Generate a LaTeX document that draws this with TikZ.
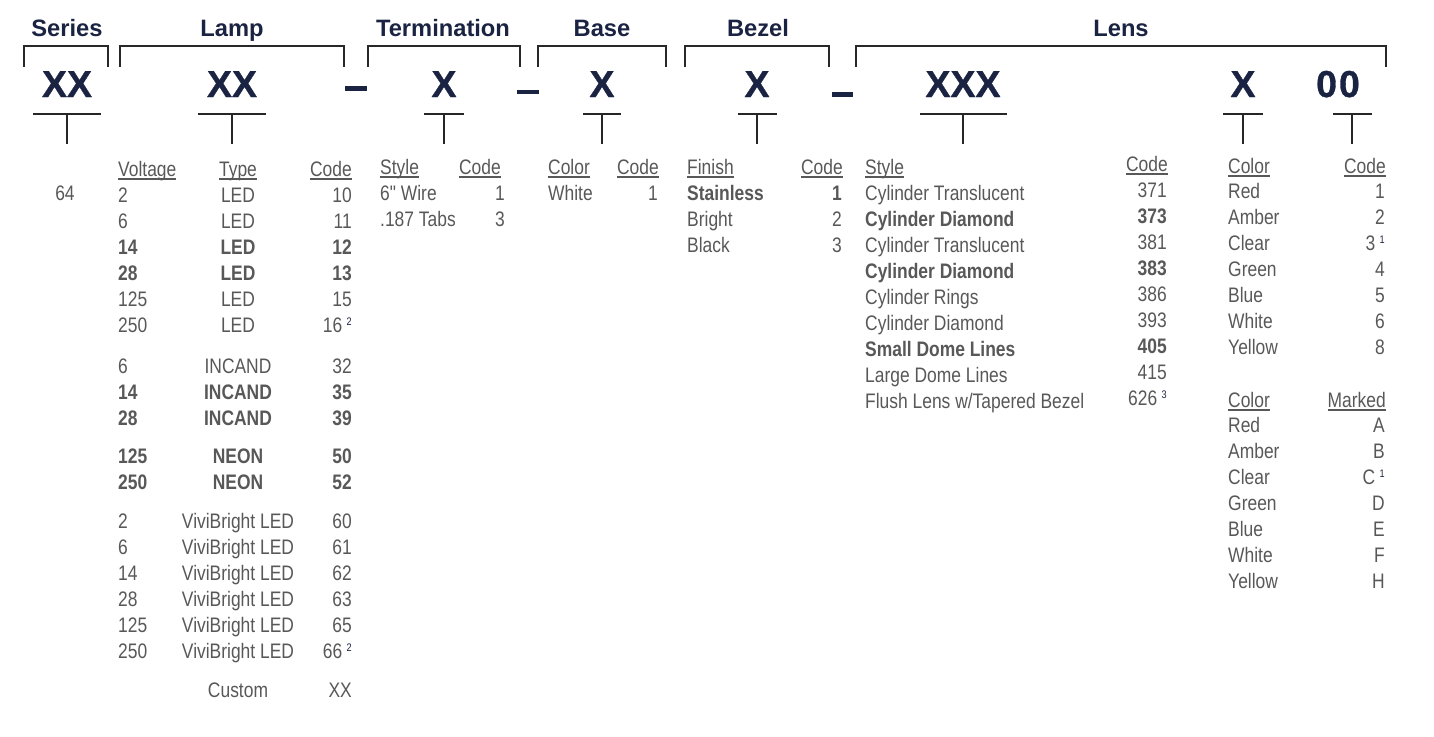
\documentclass[tikz,border=0pt]{standalone}
\usepackage{fontspec}
\setmainfont{Liberation Sans}
\newfontfamily\narrowsf[FakeStretch=0.83]{Liberation Sans}
\newfontfamily\heavysf[FakeBold=0.8]{Liberation Sans Bold}
\usepackage{tikz}
\usetikzlibrary{positioning}
\definecolor{navy}{RGB}{27,35,66}
\definecolor{txtgray}{RGB}{88,88,88}
\definecolor{linegray}{RGB}{40,40,40}
\newcommand\fnote[1]{\hspace{4.5pt}\raisebox{6.5pt}{\fontsize{11}{11}\selectfont\color{navy}#1}}
\newcommand\colhead[1]{\setbox0\hbox{#1}\rlap{\rule[-3.6pt]{\wd0}{1.3pt}}\box0}

\begin{document}
\begin{tikzpicture}[x=1pt,y=-1pt,
  hd/.style={font=\fontsize{23.7}{26}\selectfont\bfseries,text=navy,anchor=base,inner sep=0pt},
  big/.style={font=\heavysf\fontsize{37.5}{40}\selectfont,text=navy,anchor=base,inner sep=0pt},
  lt/.style={font=\narrowsf\fontsize{21}{24}\selectfont,text=txtgray,anchor=base west,inner sep=0pt},
  rt/.style={lt,anchor=base east},
  ct/.style={lt,anchor=base},
  brk/.style={draw=linegray,line width=2.6pt},
  tee/.style={draw=black!85,line width=2.6pt},
  bar/.style={fill=navy}]
\useasboundingbox (0,0) rectangle (1434,736);
% part headings and brackets
\node[hd] (series) at (67,36) {Series};
\node[hd] (lamp) at (232,36) {Lamp};
\node[hd] (term) at (443,36) {Termination};
\node[hd] (base) at (602,36) {Base};
\node[hd] (bezel) at (758,36) {Bezel};
\node[hd] (lens) at (1121,36) {Lens};
\foreach \a/\b in {24/108,120/344,368/520,538/666,685/829,856/1386}
  \draw[brk] (\a,67) |- (\b,46) -- (\b,67);
% part number
\node[big] (xs) at (67,97) {XX};
\node[big] (xl) at (232,97) {XX};
\node[big] (xt) at (444,97) {X};
\node[big] (xb) at (602,97) {X};
\node[big] (xz) at (757,97) {X};
\node[big] (xlens) at (963,97) {XXX};
\node[big] (xcol) at (1243,97) {X};
\node[big] (xcode) at (1338,97) {0\hspace{2pt}0};
\fill[bar] (345,86) rectangle (367,90.5);
\fill[bar] (517,89.5) rectangle (539,94);
\fill[bar] (832,92) rectangle (853,96.5);
\foreach \a/\b/\m in {33/101/67,198/266/232,424/464/444,583/621/602,738/777/757,920/1007/963,1223/1263/1243,1333/1372/1352}
  \draw[tee] (\a,114) -- (\b,114) (\m,114) -- (\m,144);
% series
\node[ct] (ser) at (65,200) {64};
% lamp
\node[lt] (volt) at (118,176) {\colhead{Voltage}};
\node[ct] (type) at (238,176) {\colhead{Type}};
\node[rt] (lcode) at (352,176) {\colhead{Code}};
\foreach \y/\v/\t/\c/\f in {202/2/LED/10/\mdseries,228/6/LED/11/\mdseries,254/14/LED/12/\bfseries,
  280/28/LED/13/\bfseries,306/125/LED/15/\mdseries,332/250/LED/{16\fnote{2}}/\mdseries,
  373/6/INCAND/32/\mdseries,399/14/INCAND/35/\bfseries,425/28/INCAND/39/\bfseries,
  463/125/NEON/50/\bfseries,489/250/NEON/52/\bfseries,
  528/2/ViviBright LED/60/\mdseries,554/6/ViviBright LED/61/\mdseries,580/14/ViviBright LED/62/\mdseries,
  606/28/ViviBright LED/63/\mdseries,632/125/ViviBright LED/65/\mdseries,658/250/ViviBright LED/{66\fnote{2}}/\mdseries}{
  \node[lt] (v\y) at (118,\y) {\f\v};
  \node[ct] (t\y) at (238,\y) {\f\t};
  \node[rt] (c\y) at (352,\y) {\f\c};
}
\node[ct] (custom) at (238,697) {Custom};
\node[rt] (cxx) at (352,697) {XX};
% termination
\node[lt] (tstyle) at (380,174) {\colhead{Style}};
\node[rt] (tcode) at (501,174) {\colhead{Code}};
\node[lt] (wire) at (380,200) {6" Wire};
\node[rt] (wirec) at (505,200) {1};
\node[lt] (tabs) at (380,226) {.187 Tabs};
\node[rt] (tabsc) at (505,226) {3};
% base
\node[lt] (bcolor) at (548,174) {\colhead{Color}};
\node[rt] (bcode) at (659,174) {\colhead{Code}};
\node[lt] (white) at (548,200) {White};
\node[rt] (whitec) at (658,200) {1};
% bezel
\node[lt] (finish) at (687,174) {\colhead{Finish}};
\node[rt] (zcode) at (843,174) {\colhead{Code}};
\foreach \y/\n/\c/\f in {200/Stainless/1/\bfseries,226/Bright/2/\mdseries,252/Black/3/\mdseries}{
  \node[lt] (z\y) at (687,\y) {\f\n};
  \node[rt] (zc\y) at (842,\y) {\f\c};
}
% lens style
\node[lt] (lstyle) at (865,174) {\colhead{Style}};
\node[rt] (lcodeh) at (1168,171) {\colhead{Code}};
\foreach \y/\s/\c/\f in {200/Cylinder Translucent/371/\mdseries,226/Cylinder Diamond/373/\bfseries,
  252/Cylinder Translucent/381/\mdseries,278/Cylinder Diamond/383/\bfseries,304/Cylinder Rings/386/\mdseries,
  330/Cylinder Diamond/393/\mdseries,356/Small Dome Lines/405/\bfseries,382/Large Dome Lines/415/\mdseries,
  408/{Flush Lens w/Tapered Bezel}/{626\fnote{3}}/\mdseries}{
  \node[lt] (s\y) at (865,\y) {\f\s};
  \node[rt] (sc\y) at (1167,\y-3) {\f\c};
}
% lens colour
\node[lt] (ccolor) at (1228,173) {\colhead{Color}};
\node[rt] (ccode) at (1386,173) {\colhead{Code}};
\node[lt] (mcolor) at (1228,407) {\colhead{Color}};
\node[rt] (mmark) at (1386,407) {\colhead{Marked}};
\foreach \k/\n/\c/\m in {0/Red/1/A,1/Amber/2/B,2/Clear/{3\fnote{1}}/{C\fnote{1}},3/Green/4/D,
  4/Blue/5/E,5/White/6/F,6/Yellow/8/H}{
  \node[lt] (cn\k) at (1228,198+26*\k) {\n};
  \node[rt] (cc\k) at (1385,198+26*\k) {\c};
  \node[lt] (mn\k) at (1228,432+26*\k) {\n};
  \node[rt] (mc\k) at (1385,432+26*\k) {\m};
}
\end{tikzpicture}
\end{document}
